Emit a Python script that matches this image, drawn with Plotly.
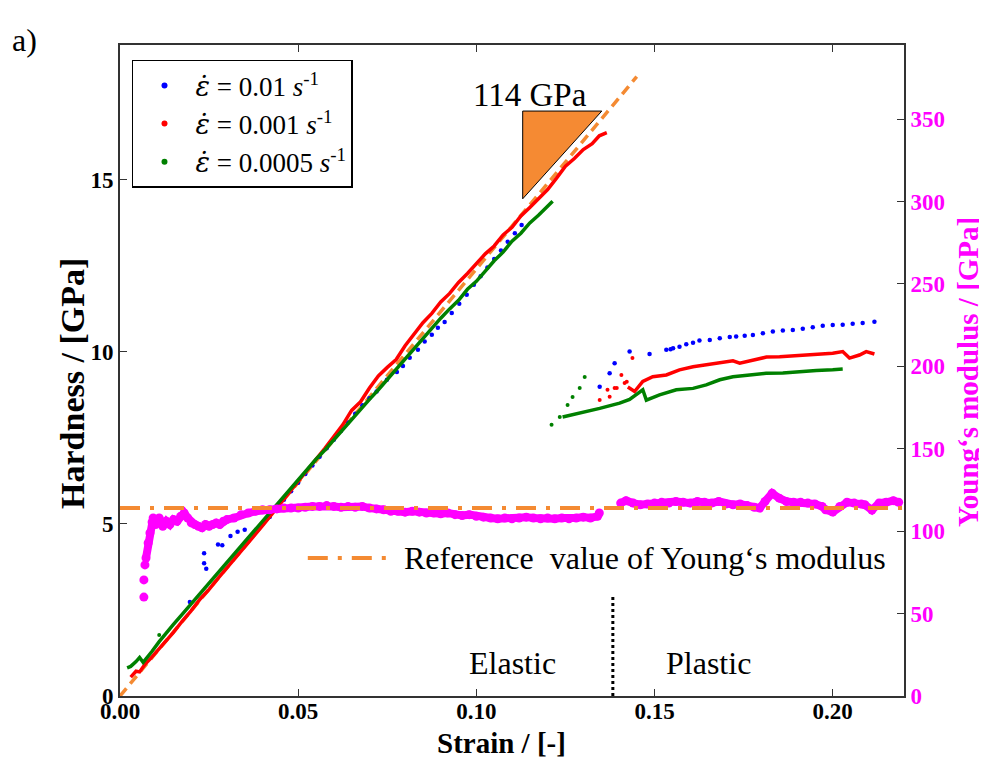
import plotly.graph_objects as go

# ---------------- data ----------------
# strain rate 0.01 s^-1 (blue, sparse dots)
blue_el_strain = [0.0196, 0.0236, 0.0236, 0.0242, 0.0275, 0.0287, 0.031, 0.033, 0.035,
                  0.040, 0.042, 0.044, 0.046, 0.048, 0.050, 0.052, 0.054, 0.056, 0.058,
                  0.060, 0.062, 0.064, 0.066, 0.068, 0.070, 0.072, 0.0749, 0.0777, 0.0794,
                  0.0813, 0.0836, 0.0855, 0.0875, 0.0892, 0.0911, 0.0931, 0.0952, 0.0973,
                  0.0993, 0.1012, 0.1031, 0.1050, 0.1069, 0.1088, 0.1108, 0.1127]
blue_el_hard = [2.73, 4.15, 3.86, 3.70, 4.40, 4.38, 4.65, 4.77, 4.83,
                5.00, 5.20, 5.45, 5.70, 5.95, 6.20, 6.45, 6.70, 6.95, 7.20,
                7.45, 7.70, 7.95, 8.20, 8.45, 8.65, 8.85, 9.19, 9.42, 9.59,
                9.83, 10.06, 10.30, 10.50, 10.70, 10.87, 11.13, 11.40, 11.66,
                11.95, 12.20, 12.45, 12.70, 12.95, 13.20, 13.45, 13.69]
blue_pl_strain = [0.1346, 0.1374, 0.1388, 0.1430, 0.1486, 0.1533, 0.1545, 0.1552, 0.1570,
                  0.1589, 0.1608, 0.1626, 0.1655, 0.1683, 0.1711, 0.1729, 0.1753, 0.1776,
                  0.1804, 0.1832, 0.1860, 0.1888, 0.1916, 0.1944, 0.1972, 0.2000, 0.2028,
                  0.2056, 0.2084, 0.2117]
blue_pl_hard = [8.99, 9.38, 9.67, 10.01, 9.94, 10.06, 10.08, 10.11, 10.15,
                10.22, 10.27, 10.33, 10.35, 10.40, 10.43, 10.45, 10.47, 10.49,
                10.54, 10.59, 10.62, 10.64, 10.67, 10.72, 10.76, 10.78, 10.79,
                10.82, 10.84, 10.88]

# strain rate 0.001 s^-1 (red, dense)
red_el_strain = [0.003, 0.0045, 0.0055, 0.007, 0.0085, 0.010, 0.0125, 0.015, 0.0175, 0.020,
                 0.0225, 0.025, 0.0275, 0.030, 0.0325, 0.035, 0.0375, 0.040, 0.0425, 0.045,
                 0.0475, 0.050, 0.0525, 0.055, 0.0575, 0.060, 0.0625, 0.065, 0.0675, 0.070,
                 0.0725, 0.075, 0.0775, 0.080, 0.0825, 0.085, 0.0875, 0.090, 0.0925, 0.095,
                 0.0975, 0.100, 0.1025, 0.105, 0.1075, 0.110, 0.1125, 0.115, 0.1175, 0.120,
                 0.1225, 0.125, 0.1275, 0.130, 0.1325, 0.1345, 0.1366]
red_el_hard = [0.55, 0.72, 0.70, 0.92, 1.08, 1.25, 1.55, 1.85, 2.18, 2.48,
               2.82, 3.10, 3.42, 3.72, 4.02, 4.33, 4.62, 4.95, 5.27, 5.60,
               5.90, 6.25, 6.55, 6.88, 7.20, 7.52, 7.88, 8.30, 8.55, 8.95,
               9.30, 9.55, 9.78, 10.18, 10.50, 10.85, 11.12, 11.45, 11.70, 12.02,
               12.28, 12.55, 12.85, 13.08, 13.40, 13.62, 13.95, 14.20, 14.45, 14.72,
               15.05, 15.40, 15.62, 15.88, 16.05, 16.28, 16.37]
red_tr_strain = [0.1346, 0.1368, 0.1374, 0.1388, 0.1394, 0.1407, 0.1416, 0.1422, 0.1438]
red_tr_hard = [8.60, 8.90, 8.70, 8.95, 8.95, 9.33, 9.10, 9.13, 9.82]
red_pl_strain = [0.1425, 0.1444, 0.1467, 0.1495, 0.1533, 0.1570, 0.1608, 0.1645, 0.1683,
                 0.1720, 0.1739, 0.1776, 0.1814, 0.1851, 0.1888, 0.1926, 0.1963, 0.2000,
                 0.2028, 0.2047, 0.2075, 0.2094, 0.2117]
red_pl_hard = [8.98, 8.85, 9.14, 9.28, 9.33, 9.48, 9.57, 9.62, 9.67,
               9.74, 9.67, 9.77, 9.85, 9.86, 9.88, 9.91, 9.93, 9.96,
               10.01, 9.82, 9.91, 10.01, 9.94]

# strain rate 0.0005 s^-1 (green, dense)
green_el_strain = [0.002, 0.003, 0.0045, 0.0055, 0.0065, 0.0075, 0.009, 0.011, 0.0125, 0.015,
                   0.0175, 0.020, 0.0225, 0.025, 0.0275, 0.030, 0.0325, 0.035, 0.0375, 0.040,
                   0.0425, 0.045, 0.0475, 0.050, 0.0525, 0.055, 0.0575, 0.060, 0.0625, 0.065,
                   0.0675, 0.070, 0.0725, 0.075, 0.0775, 0.080, 0.0825, 0.085, 0.0875, 0.090,
                   0.0925, 0.095, 0.0975, 0.100, 0.1025, 0.105, 0.1075, 0.110, 0.1125, 0.115,
                   0.1175, 0.120, 0.1214]
green_el_hard = [0.82, 0.86, 1.00, 1.12, 0.98, 1.10, 1.30, 1.58, 1.78, 2.08,
                 2.38, 2.68, 3.00, 3.28, 3.58, 3.88, 4.20, 4.50, 4.80, 5.10,
                 5.40, 5.70, 6.00, 6.28, 6.58, 6.88, 7.15, 7.45, 7.75, 8.05,
                 8.33, 8.62, 8.90, 9.20, 9.48, 9.80, 10.10, 10.40, 10.68, 10.98,
                 11.25, 11.50, 11.82, 12.05, 12.35, 12.65, 12.90, 13.22, 13.45, 13.75,
                 13.98, 14.25, 14.38]
green_tr_strain = [0.011, 0.1211, 0.1234, 0.1256, 0.1270, 0.1290, 0.1304]
green_tr_hard = [1.77, 7.88, 8.11, 8.46, 8.69, 8.95, 9.27]
green_pl_strain = [0.1242, 0.1290, 0.1346, 0.1402, 0.1430, 0.1467, 0.1477, 0.1514, 0.1561,
                   0.1608, 0.1645, 0.1683, 0.1720, 0.1767, 0.1813, 0.1860, 0.1907, 0.1954,
                   0.2000, 0.2028]
green_pl_hard = [8.11, 8.22, 8.36, 8.51, 8.62, 8.90, 8.60, 8.75, 8.90,
                 8.94, 9.04, 9.19, 9.28, 9.33, 9.38, 9.39, 9.43, 9.46,
                 9.48, 9.50]

# Young's modulus (magenta, right axis)
mod_start_strain = [0.0067, 0.0067, 0.0070]
mod_start_val = [60, 70.4, 79.5]
mod_el_strain = [0.0073, 0.0079, 0.0084, 0.0090, 0.0093,
                 0.010, 0.011, 0.012, 0.013, 0.014, 0.015, 0.016, 0.017, 0.018, 0.019,
                 0.020, 0.021, 0.022, 0.023, 0.024, 0.025, 0.026, 0.027, 0.028, 0.029,
                 0.030, 0.032, 0.034, 0.036, 0.038, 0.040, 0.042, 0.044, 0.046, 0.048,
                 0.050, 0.052, 0.054, 0.056, 0.058, 0.060, 0.062, 0.064, 0.066, 0.068,
                 0.070, 0.072, 0.074, 0.076, 0.078, 0.080, 0.082, 0.084, 0.086, 0.088,
                 0.090, 0.092, 0.094, 0.096, 0.098, 0.100, 0.102, 0.104, 0.106, 0.108,
                 0.110, 0.112, 0.114, 0.116, 0.118, 0.120, 0.122, 0.124, 0.126, 0.128,
                 0.130, 0.132, 0.134, 0.1345]
mod_el_val = [83.7, 92.8, 98.9, 105.5, 108,
              104, 108, 103, 106, 104, 107, 106, 109, 111, 108,
              105, 104, 103, 102, 104, 103, 104, 105, 104, 106,
              107, 108, 110, 111, 112, 113, 113, 113.5, 114, 114,
              114, 114.5, 115, 115, 115.5, 115, 114.5, 115, 114.5, 115,
              114, 113.5, 113, 112, 112, 111.5, 112, 111.5, 111, 111,
              110.5, 111, 110, 109.5, 110, 109, 108.5, 108, 107.5, 108,
              107.5, 108, 108.5, 108, 107.5, 108, 107.5, 108, 107.5, 108,
              108.5, 108, 109, 111]
mod_pl_strain = [0.1405, 0.142, 0.144, 0.146, 0.148, 0.150, 0.152, 0.154, 0.156, 0.158,
                 0.160, 0.162, 0.164, 0.166, 0.168, 0.170, 0.172, 0.174, 0.176, 0.178,
                 0.1795, 0.181, 0.183, 0.185, 0.187, 0.189, 0.191, 0.193, 0.195, 0.197,
                 0.198, 0.200, 0.202, 0.204, 0.206, 0.208, 0.209, 0.211, 0.213, 0.215,
                 0.217, 0.2185]
mod_pl_val = [117, 118.5, 117, 116, 116.5, 117, 117.5, 117, 118, 117.5,
              117, 118, 117.5, 117, 118, 116.5, 116, 116.5, 115.5, 114.5,
              114, 118, 123, 120, 118, 117.5, 117.5, 117, 116.5, 115,
              113, 111.6, 115, 117.5, 117, 116.5, 116, 112.8, 117, 117.5,
              118.5, 117.5]

# reference lines and annotations
ref_line_strain = [0.0, 0.145]
ref_line_hard = [0.0, 18.0]
ref_modulus = 114
tri_strain = [0.1130, 0.1352, 0.1130, 0.1130]
tri_hard = [17.0, 17.0, 14.45, 17.0]
divider_strain = [0.1383, 0.1383]
divider_hard = [0.0, 2.88]

EPS = "<span style='font-family:DejaVu Serif'><i>ε̇</i></span>"
legend_labels = [EPS + " = 0.01 <i>s</i><sup>-1</sup>",
                 EPS + " = 0.001 <i>s</i><sup>-1</sup>",
                 EPS + " = 0.0005 <i>s</i><sup>-1</sup>"]
x_ticks = [0.0, 0.05, 0.10, 0.15, 0.20]
x_ticktext = ["0.00", "0.05", "0.10", "0.15", "0.20"]
y_ticks = [0, 5, 10, 15]
y2_ticks = [0, 50, 100, 150, 200, 250, 300, 350]

BLUE, RED, GREEN, MAG, ORANGE = "#0000FF", "#FF0000", "#008000", "#FF00FF", "#F48A32"
SERIF = "Liberation Serif"

fig = go.Figure()

# legend-only entries
for lab, col in zip(legend_labels, [BLUE, RED, GREEN]):
    fig.add_trace(go.Scatter(x=[None], y=[None], mode="markers", name=lab,
                             marker=dict(color=col, size=6), legendgroup=lab))

fig.add_trace(go.Scatter(x=ref_line_strain, y=ref_line_hard, mode="lines", showlegend=False,
                         line=dict(color=ORANGE, width=3.5, dash="10px,6px")))
fig.add_trace(go.Scatter(x=blue_el_strain, y=blue_el_hard, mode="markers", showlegend=False,
                         marker=dict(color=BLUE, size=4.5)))
fig.add_trace(go.Scatter(x=blue_pl_strain, y=blue_pl_hard, mode="markers", showlegend=False,
                         marker=dict(color=BLUE, size=4.5)))
fig.add_trace(go.Scatter(x=red_el_strain, y=red_el_hard, mode="lines", showlegend=False,
                         line=dict(color=RED, width=3.5)))
fig.add_trace(go.Scatter(x=red_tr_strain, y=red_tr_hard, mode="markers", showlegend=False,
                         marker=dict(color=RED, size=4)))
fig.add_trace(go.Scatter(x=red_pl_strain, y=red_pl_hard, mode="lines", showlegend=False,
                         line=dict(color=RED, width=3.5)))
fig.add_trace(go.Scatter(x=green_el_strain, y=green_el_hard, mode="lines", showlegend=False,
                         line=dict(color=GREEN, width=3.5)))
fig.add_trace(go.Scatter(x=green_tr_strain, y=green_tr_hard, mode="markers", showlegend=False,
                         marker=dict(color=GREEN, size=4)))
fig.add_trace(go.Scatter(x=green_pl_strain, y=green_pl_hard, mode="lines", showlegend=False,
                         line=dict(color=GREEN, width=3.5)))

# slope triangle
fig.add_trace(go.Scatter(x=tri_strain, y=tri_hard, mode="lines", fill="toself",
                         fillcolor="#F58A33", line=dict(color="black", width=1),
                         showlegend=False))
# elastic / plastic divider
fig.add_trace(go.Scatter(x=divider_strain, y=divider_hard, mode="lines", showlegend=False,
                         line=dict(color="black", width=3, dash="dot")))

# Young's modulus on right axis
fig.add_trace(go.Scatter(x=mod_start_strain, y=mod_start_val, yaxis="y2", mode="markers",
                         showlegend=False, marker=dict(color=MAG, size=9)))
fig.add_trace(go.Scatter(x=mod_el_strain, y=mod_el_val, yaxis="y2", mode="lines+markers",
                         showlegend=False, marker=dict(color=MAG, size=9),
                         line=dict(color=MAG, width=8)))
fig.add_trace(go.Scatter(x=mod_pl_strain, y=mod_pl_val, yaxis="y2", mode="lines+markers",
                         showlegend=False, marker=dict(color=MAG, size=9),
                         line=dict(color=MAG, width=8)))
fig.add_trace(go.Scatter(x=[0, 0.22], y=[ref_modulus, ref_modulus], yaxis="y2", mode="lines",
                         showlegend=False,
                         line=dict(color=ORANGE, width=4, dash="20px,10px,4px,10px")))

# reference legend glyph (dash-dot) + text
fig.add_shape(type="line", x0=0.0527, x1=0.0757, y0=4.01, y1=4.01, xref="x", yref="y",
              line=dict(color=ORANGE, width=4, dash="20px,10px,4px,10px"))
fig.add_annotation(x=0.079, y=4.01, xref="x", yref="y", xanchor="left", yanchor="middle",
                   text="Reference  value of Young‘s modulus", showarrow=False,
                   font=dict(family=SERIF, size=32, color="black"))
fig.add_annotation(x=0.115, y=17.47, xref="x", yref="y", text="114 GPa", showarrow=False,
                   font=dict(family=SERIF, size=33, color="black"))
fig.add_annotation(x=0.110, y=0.96, xref="x", yref="y", text="Elastic", showarrow=False,
                   font=dict(family=SERIF, size=32, color="black"))
fig.add_annotation(x=0.165, y=0.96, xref="x", yref="y", text="Plastic", showarrow=False,
                   font=dict(family=SERIF, size=32, color="black"))
fig.add_annotation(x=-0.1403, y=1.0384, xref="paper", yref="paper", xanchor="left",
                   yanchor="top", text="a)", showarrow=False,
                   font=dict(family=SERIF, size=32, color="black"))

# axis titles
fig.add_annotation(x=0.486, y=-0.0722, xref="paper", yref="paper", text="Strain / [-]",
                   showarrow=False, xanchor="center", yanchor="middle",
                   font=dict(family=SERIF, size=29, color="black", weight="bold"))
fig.add_annotation(x=-0.0600, y=0.4808, xref="paper", yref="paper", text="Hardness / [GPa]",
                   showarrow=False, textangle=-90, xanchor="center", yanchor="middle",
                   font=dict(family=SERIF, size=34, color="black", weight="bold"))
fig.add_annotation(x=1.0816, y=0.4977, xref="paper", yref="paper",
                   text="Young‘s modulus / [GPa]", showarrow=False, textangle=-90,
                   xanchor="center", yanchor="middle",
                   font=dict(family=SERIF, size=29, color=MAG, weight="bold"))

tickfont = dict(family=SERIF, size=23, color="black", weight="bold")
fig.update_layout(
    width=979, height=751,
    margin=dict(l=112, r=83, t=37, b=63),
    paper_bgcolor="white", plot_bgcolor="white",
    showlegend=True,
    legend=dict(x=0.0153, y=0.977, xanchor="left", yanchor="top",
                bgcolor="white", bordercolor="black", borderwidth=1.5,
                font=dict(family=SERIF, size=27, color="black"),
                tracegroupgap=0, traceorder="grouped", itemwidth=52),
    xaxis=dict(range=[0, 0.22], tickvals=x_ticks, ticktext=x_ticktext, automargin=False,
               showgrid=False, zeroline=False, showline=True, linecolor="#333",
               linewidth=2, mirror="ticks", ticks="inside", ticklen=7, tickcolor="#333",
               tickfont=tickfont, ticklabelstandoff=-7),
    yaxis=dict(range=[0, 18.92], tickvals=y_ticks, showgrid=False, zeroline=False,
               automargin=False,
               showline=True, linecolor="#333", linewidth=2, ticks="inside", ticklen=7,
               tickcolor="#333", tickfont=tickfont),
    yaxis2=dict(range=[0, 394.9], tickvals=y2_ticks, overlaying="y", side="right",
                automargin=False,
                showgrid=False, zeroline=False, showline=True, linecolor="#333",
                linewidth=2, ticks="inside", ticklen=7, tickcolor="#333",
                tickfont=dict(family=SERIF, size=23, color=MAG, weight="bold")),
)

fig.write_html("out.html")
